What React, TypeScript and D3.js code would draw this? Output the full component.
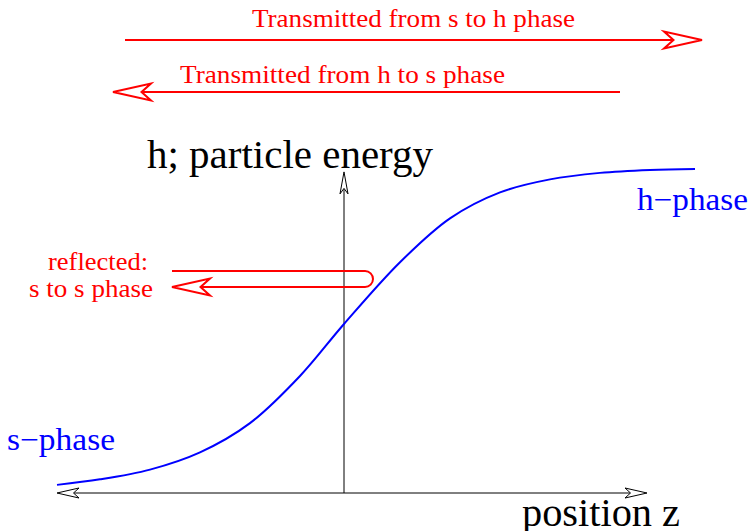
import * as d3 from 'd3'

// curve: position z vs particle energy h
const zVals = [-5.74, -4.88, -3.88, -2.88, -1.88, -0.88, 0, 1.12, 2.12, 3.12, 4.12, 5.12, 6.12, 7.02]
const hVals = [0.025, 0.042, 0.072, 0.125, 0.215, 0.36, 0.52, 0.71, 0.845, 0.925, 0.965, 0.985, 0.994, 0.997]

const axisZ = [-5.74, 6.06]
const axisH = [0, 0.988]

// arrows above the plot
const transArrows = [
  { label: 'Transmitted from s to h phase', from: -4.38, to: 7.16, h: 1.394, labelZ: 1.39, labelH: 1.434, width: 323 },
  { label: 'Transmitted from h to s phase', from: 5.52, to: -4.62, h: 1.234, labelZ: -0.03, labelH: 1.262, width: 325 },
]
const reflectFrom = -3.44
const reflectTurn = 0.58
const reflectH = [0.683, 0.634]
const reflectLines = ['reflected:', 's to s phase']
const reflectWidths = [100, 124]

const W = 751
const H = 531
const RED = '#ff0000'
const BLUE = '#0000ff'
const FONT = '"Liberation Serif", "Times New Roman", serif'

const x = d3.scaleLinear().domain([-6, 7]).range([44, 694])
const y = d3.scaleLinear().domain([0, 1]).range([493, 168])

// open xfig-style indented arrowhead
function head(tx: number, ty: number, dir: number, color: string, len: number, half: number, sw = 2) {
  const p = [
    [0, 0],
    [-len, -half],
    [-len * 0.75, 0],
    [-len, half],
  ]
  const d = 'M' + p.map(([a, b]) => `${tx + a * dir},${ty + b}`).join('L') + 'Z'
  return <path d={d} fill="white" stroke={color} strokeWidth={sw} strokeLinejoin="miter" />
}
function vhead(tx: number, ty: number, color: string, len: number, half: number) {
  const p = [
    [0, 0],
    [-half, len],
    [0, len * 0.75],
    [half, len],
  ]
  const d = 'M' + p.map(([a, b]) => `${tx + a},${ty + b}`).join('L') + 'Z'
  return <path d={d} fill="white" stroke={color} strokeWidth={1} />
}

export default function App() {
  const line = d3.line<number>()
    .x((_, i) => x(zVals[i]))
    .y(d => y(d))
    .curve(d3.curveCatmullRom)

  const x0 = x(axisZ[0])
  const x1 = x(axisZ[1])
  const ya = y(axisH[0])
  const yTop = y(axisH[1])
  const xa = x(0)

  const rx0 = x(reflectFrom)
  const rx1 = x(reflectTurn)
  const ry0 = y(reflectH[0])
  const ry1 = y(reflectH[1])
  const rr = (ry1 - ry0) / 2

  return (
    <svg width={W} height={H} style={{ position: 'absolute', left: 0, top: 0, background: 'white' }}>
      {/* axes */}
      <line x1={x0 + 10} x2={x1 - 10} y1={ya} y2={ya} stroke="#000" strokeWidth={1} />
      <line x1={xa} x2={xa} y1={ya} y2={yTop + 10} stroke="#000" strokeWidth={1} />
      {head(x1, ya, 1, '#000', 22, 5, 1)}
      {head(x0, ya, -1, '#000', 22, 5, 1)}
      {vhead(xa, yTop, '#000', 22, 4)}

      {/* sigmoid */}
      <path d={line(hVals) || ''} fill="none" stroke={BLUE} strokeWidth={2} />

      {/* axis labels */}
      <text x={147} y={168} fontFamily={FONT} fontSize={39} fill="#000" textLength={286} lengthAdjust="spacingAndGlyphs">h; particle energy</text>
      <text x={522} y={526} fontFamily={FONT} fontSize={40} fill="#000" textLength={158} lengthAdjust="spacingAndGlyphs">position z</text>
      <text x={637} y={210} fontFamily={FONT} fontSize={31} fill={BLUE} textLength={111} lengthAdjust="spacingAndGlyphs">h−phase</text>
      <text x={7} y={450} fontFamily={FONT} fontSize={31} fill={BLUE} textLength={108} lengthAdjust="spacingAndGlyphs">s−phase</text>

      {/* transmitted arrows */}
      {transArrows.map(a => {
        const xs = x(a.from)
        const xe = x(a.to)
        const yy = y(a.h)
        const dir = xe > xs ? 1 : -1
        return (
          <g key={a.label}>
            <line x1={xs} x2={xe - dir * 28} y1={yy} y2={yy} stroke={RED} strokeWidth={2} />
            {head(xe, yy, dir, RED, 38, 8.5)}
            <text x={x(a.labelZ)} y={y(a.labelH)} textAnchor="middle" fontFamily={FONT} fontSize={26} fill={RED}
              textLength={a.width} lengthAdjust="spacingAndGlyphs">{a.label}</text>
          </g>
        )
      })}

      {/* reflected arrow */}
      <path
        d={`M${rx0},${ry0}L${rx1 - rr},${ry0}A${rr},${rr} 0 0 1 ${rx1 - rr},${ry1}L${rx0 + 28},${ry1}`}
        fill="none" stroke={RED} strokeWidth={2}
      />
      {head(rx0, ry1, -1, RED, 38, 8.5)}
      {reflectLines.map((t, i) => (
        <text key={t} x={i === 0 ? 148 : 153} y={270 + i * 27} textAnchor="end" fontFamily={FONT} fontSize={26} fill={RED}
          textLength={reflectWidths[i]} lengthAdjust="spacingAndGlyphs">{t}</text>
      ))}
    </svg>
  )
}
